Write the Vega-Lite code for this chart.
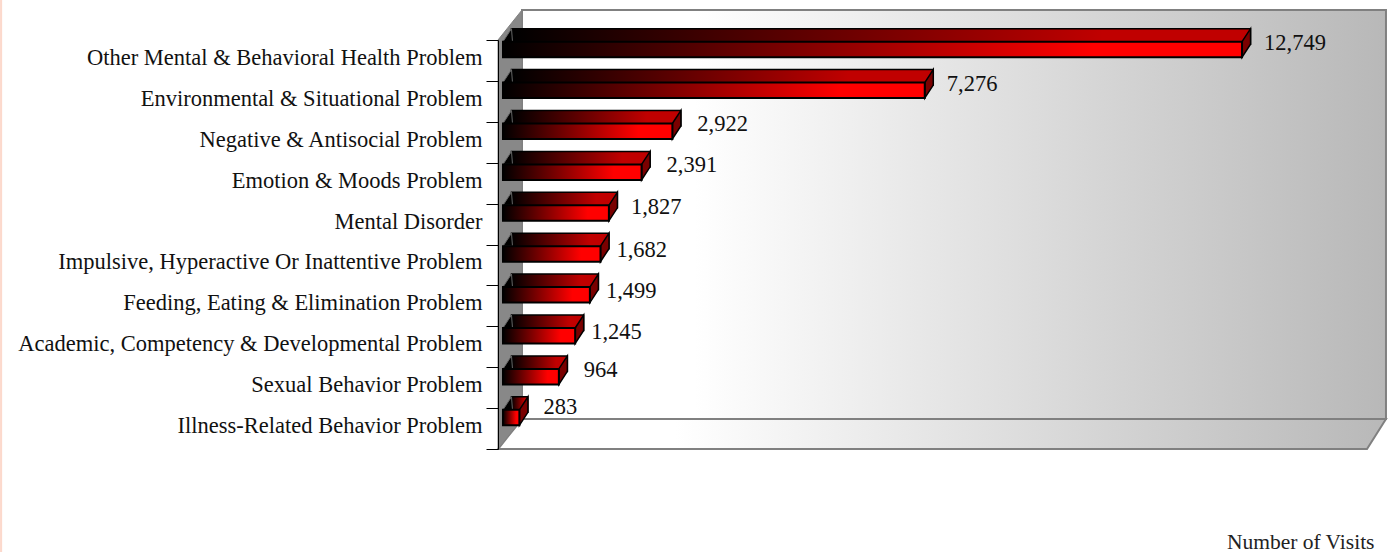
{"$schema":"https://vega.github.io/schema/vega-lite/v6.json","width":894,"height":552,"autosize":{"type":"none"},"padding":{"left":498,"top":0,"right":0,"bottom":0},"background":"white","config":{"view":{"stroke":null}},
"datasets":{"bars":[{"problem":"Other Mental & Behavioral Health Problem","visits":12749},{"problem":"Environmental & Situational Problem","visits":7276},{"problem":"Negative & Antisocial Problem","visits":2922},{"problem":"Emotion & Moods Problem","visits":2391},{"problem":"Mental Disorder","visits":1827},{"problem":"Impulsive, Hyperactive Or Inattentive Problem","visits":1682},{"problem":"Feeding, Eating & Elimination Problem","visits":1499},{"problem":"Academic, Competency & Developmental Problem","visits":1245},{"problem":"Sexual Behavior Problem","visits":964},{"problem":"Illness-Related Behavior Problem","visits":283}],
"frame":[{"part":"edge","x":-8676,"x2":-8640,"lo":-2.518,"hi":10.978},{"part":"wall","x":328,"x2":15232,"lo":0.733,"hi":10.733},{"part":"side","x":-86,"lo":0,"hi":10},{"part":"side","x":328,"lo":0.733,"hi":10.733},{"part":"floor","x":-86,"lo":0,"hi":0},{"part":"floor","x":328,"lo":0,"hi":0.733},{"part":"floor","x":14905,"lo":0,"hi":0.733},{"part":"floor","x":15232,"lo":0.733,"hi":0.733}]},
"resolve":{"scale":{"y":"independent"},"axis":{"y":"independent"}},
"layer":[
{"data":{"name":"frame"},
"encoding":{"x":{"field":"x","type":"quantitative","scale":{"domain":[-86,15336],"zero":false,"nice":false},"axis":{"title":"Number of Visits","labels":false,"ticks":false,"domain":false,"grid":false,"titleFont":"Liberation Serif","titleFontSize":21.5,"titleFontWeight":"normal","titleColor":"#222222","titleAlign":"right","titleBaseline":"alphabetic","titleX":876,"titleY":-4}},
"y":{"field":"lo","type":"quantitative","scale":{"domain":[-2.518,10.978],"zero":false,"nice":false},"axis":null},"y2":{"field":"hi"}},
"layer":[
{"transform":[{"filter":"datum.part==='edge'"}],"mark":{"type":"rect","color":"#fcd9cc"},"encoding":{"x2":{"field":"x2"}}},
{"transform":[{"filter":"datum.part==='wall'"}],"mark":{"type":"rect","stroke":"#808080","strokeWidth":2,"color":{"gradient":"linear","x1":0,"x2":1,"y1":0,"y2":0,"stops":[{"offset":0,"color":"#ffffff"},{"offset":0.2,"color":"#ffffff"},{"offset":1,"color":"#b8b8b8"}]}},"encoding":{"x2":{"field":"x2"}}},
{"transform":[{"filter":"datum.part==='floor'"}],"mark":{"type":"area","orient":"vertical","stroke":"#808080","strokeWidth":2,"color":{"gradient":"linear","x1":0,"x2":1,"y1":0,"y2":0,"stops":[{"offset":0,"color":"#ffffff"},{"offset":0.2,"color":"#ffffff"},{"offset":1,"color":"#b8b8b8"}]}}},
{"transform":[{"filter":"datum.part==='side'"}],"mark":{"type":"area","orient":"vertical","color":"#888888","stroke":"#808080"}}
]},
{"data":{"name":"bars"},
"encoding":{"y":{"field":"problem","type":"nominal","sort":null,"title":null,"scale":{"range":[40,449],"paddingInner":0,"paddingOuter":0},"axis":{"tickBand":"extent","tickSize":12,"tickColor":"#000000","domainColor":"#000000","labelPadding":4,"labelOffset":-3,"labelFont":"Liberation Serif","labelFontSize":22.5,"labelColor":"#111111","labelLimit":490,"zindex":1,"grid":false}},
"x":{"field":"visits","type":"quantitative"}},
"layer":[
{"mark":{"type":"bar","size":15.5,"xOffset":8.5,"x2Offset":8.5,"yOffset":-24,"y2Offset":-24,"stroke":"#000000","strokeWidth":1.5,"color":{"gradient":"linear","x1":0,"x2":1,"y1":0,"y2":0,"stops":[{"offset":0,"color":"#000000"},{"offset":0.8,"color":"#c00000"},{"offset":1,"color":"#c00000"}]}}},
{"mark":{"type":"point","filled":true,"opacity":1,"size":4,"shape":"M0,-7.75 L8.5,-20.75 L8.5,-5.25 L0,7.75 Z","color":"#7a0000","stroke":"#000000","strokeWidth":1.5,"yOffset":-11}},
{"mark":{"type":"point","filled":true,"opacity":1,"size":4,"shape":"M0,-7.75 L8.5,-20.75 L9.5,-7.75 Z","color":"#000000","stroke":"#666666","strokeWidth":1,"yOffset":-11},"encoding":{"x":{"datum":0,"type":"quantitative"}}},
{"mark":{"type":"bar","size":15.5,"yOffset":-11,"y2Offset":-11,"stroke":"#000000","strokeWidth":2,"color":{"gradient":"linear","x1":0,"x2":1,"y1":0,"y2":0,"stops":[{"offset":0,"color":"#000000"},{"offset":0.8,"color":"#ff0000"},{"offset":1,"color":"#ff0000"}]}}},
{"transform":[{"filter":{"field":"visits","oneOf":[1682,1499,1245]}}],"mark":{"type":"text","align":"left","baseline":"middle","dx":16,"dy":-15,"font":"Liberation Serif","fontSize":22.5,"color":"#111111"},"encoding":{"text":{"field":"visits","type":"quantitative","format":","}}},
{"transform":[{"filter":{"field":"visits","oneOf":[12749,7276,1827]}}],"mark":{"type":"text","align":"left","baseline":"middle","dx":22,"dy":-17,"font":"Liberation Serif","fontSize":22.5,"color":"#111111"},"encoding":{"text":{"field":"visits","type":"quantitative","format":","}}},
{"transform":[{"filter":{"field":"visits","oneOf":[2922,2391,964]}}],"mark":{"type":"text","align":"left","baseline":"middle","dx":25,"dy":-18,"font":"Liberation Serif","fontSize":22.5,"color":"#111111"},"encoding":{"text":{"field":"visits","type":"quantitative","format":","}}},
{"transform":[{"filter":{"field":"visits","oneOf":[283]}}],"mark":{"type":"text","align":"left","baseline":"middle","dx":24,"dy":-22,"font":"Liberation Serif","fontSize":22.5,"color":"#111111"},"encoding":{"text":{"field":"visits","type":"quantitative","format":","}}}
]}
]}
